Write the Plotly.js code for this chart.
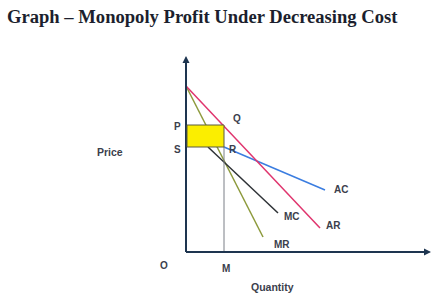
<!DOCTYPE html>
<html><head><meta charset="utf-8">
<script src="https://cdn.plot.ly/plotly-3.0.1.min.js"></script>
<style>html,body{margin:0;padding:0;background:#fff}#chart{width:443px;height:306px}</style>
</head><body><div id="chart"></div>
<script>
// Curve data (quantity, price) in chart units
const arQ = [0, 13.4], arP = [16.6, 2.4];
const mrQ = [0, 7.7], mrP = [16.6, 1.5];
const mcQ = [2.2, 9.2], mcP = [10.5, 3.9];
const acQ = [3.8, 13.9], acP = [10.5, 6.2];
const priceP = 12.7, costS = 10.5, qtyM = 3.8;
const axisQmax = 24.3, axisPmax = 19.4;
const curveLabels = ['AC', 'MC', 'AR', 'MR'];
const curveLabelQ = [15.5, 10.6, 14.7, 9.6];
const curveLabelP = [6.3, 3.6, 2.7, 0.8];

const txtColor = '#3b404c';
const axColor = '#1e3550';
const lab = (t, x, y, size) => ({text: t, x: x, y: y, xref: 'x', yref: 'y', showarrow: false,
  font: {family: 'Liberation Sans, Arial', size: size || 10, color: txtColor, weight: 'bold'}});

const traces = [
  {x: mrQ, y: mrP, mode: 'lines', line: {color: '#8d9a3c', width: 1.5}},
  {x: mcQ, y: mcP, mode: 'lines', line: {color: '#2e3236', width: 1.5}},
  {x: acQ, y: acP, mode: 'lines', line: {color: '#3b7de0', width: 1.5}},
  {x: arQ, y: arP, mode: 'lines', line: {color: '#e0356e', width: 1.5}},
  {x: [qtyM, qtyM], y: [0, costS], mode: 'lines', line: {color: '#7a7f86', width: 1}},
  {x: [0, axisQmax], y: [0, 0], mode: 'lines', line: {color: axColor, width: 2}},
  {x: [0, 0], y: [0, axisPmax], mode: 'lines', line: {color: axColor, width: 2}}
];

const annotations = [
  lab('P', -0.9, 12.6), lab('S', -0.9, 10.3), lab('Q', 5.1, 13.4), lab('R', 4.7, 10.3),
  lab('Price', -7.6, 10.0, 10.5),
  lab('O', -2.2, -1.3), lab('M', 4.0, -1.6), lab('Quantity', 8.6, -3.5, 10.5),
  {x: 0, y: axisPmax + 0.2, ax: 0, ay: axisPmax - 1, axref: 'x', ayref: 'y', xref: 'x', yref: 'y',
   showarrow: true, arrowhead: 2, arrowsize: 0.7, arrowwidth: 2, arrowcolor: axColor, text: ''},
  {x: axisQmax + 0.2, y: 0, ax: axisQmax - 1, ay: 0, axref: 'x', ayref: 'y', xref: 'x', yref: 'y',
   showarrow: true, arrowhead: 2, arrowsize: 0.7, arrowwidth: 2, arrowcolor: axColor, text: ''}
];
curveLabels.forEach((t, i) => annotations.push(lab(t, curveLabelQ[i], curveLabelP[i])));

const layout = {
  width: 443, height: 306,
  margin: {l: 0, r: 0, t: 0, b: 0},
  paper_bgcolor: '#fff', plot_bgcolor: '#fff',
  showlegend: false,
  title: {text: 'Graph – Monopoly Profit Under Decreasing Cost', x: 7/443, xref: 'container', xanchor: 'left',
    y: 1 - 16/306, yref: 'container', yanchor: 'middle',
    font: {family: 'Liberation Serif, serif', size: 18.6, color: '#1c1f2e', weight: 'bold'}},
  xaxis: {range: [-18.6, 25.7], visible: false, fixedrange: true},
  yaxis: {range: [-5.4, 25.2], visible: false, fixedrange: true},
  shapes: [{type: 'rect', xref: 'x', yref: 'y', x0: 0.1, x1: qtyM, y0: costS, y1: priceP, layer: 'above',
    fillcolor: '#fbee00', line: {color: '#5a5a40', width: 1}}],
  annotations: annotations
};
Plotly.newPlot('chart', traces, layout, {displayModeBar: false, staticPlot: true});
</script></body></html>
